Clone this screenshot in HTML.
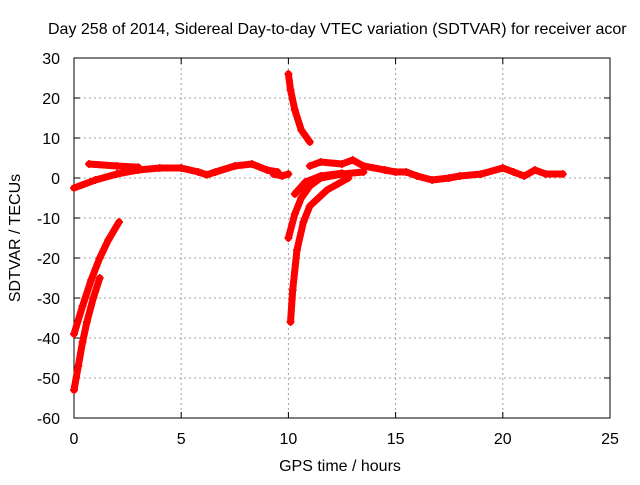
<!DOCTYPE html>
<html><head><meta charset="utf-8"><style>
body{margin:0;background:#fff;font-family:"Liberation Sans",sans-serif}
svg text{font-family:"Liberation Sans",sans-serif;font-size:16px;fill:#000}
</style></head><body>
<svg id="c" width="640" height="480" xmlns="http://www.w3.org/2000/svg"></svg>
<script>
const xTicks=[0,5,10,15,20,25];
const yTicks=[30,20,10,0,-10,-20,-30,-40,-50,-60];
const s1=[[0,-53],[0.2,-47],[0.4,-41],[0.6,-36],[0.9,-30],[1.2,-25]];
const s2=[[0,-39],[0.4,-32],[0.8,-25.5],[1.2,-20],[1.6,-15.5],[2.1,-11]];
const s3=[[0,-2.5],[1,-0.5],[2,1],[3,2],[4,2.5],[5,2.5],[5.8,1.5],[6.2,0.8],[6.6,1.5],[7.5,3],[8.3,3.5],[9,2],[9.5,1.5]];
const s4=[[0.7,3.5],[2,3],[3,2.7]];
const s5=[[9.3,1],[9.7,0.5],[10,1]];
const s6=[[10,26],[10.1,22],[10.3,17],[10.6,12],[11,9]];
const s7=[[10,-15],[10.3,-9],[10.6,-5],[11,-2],[11.5,0],[12.5,1],[13.5,1.5]];
const s8=[[10.1,-36],[10.2,-28],[10.4,-18],[10.7,-11],[11,-7],[11.4,-5],[11.8,-3],[12.3,-1.5],[12.8,0]];
const s9=[[10.3,-4],[10.8,-1],[11.5,0.5],[12.5,1.2]];
const s10=[[11,3],[11.5,4],[12.5,3.5],[13,4.5],[13.5,3],[14.5,2],[15,1.5],[15.5,1.5],[16,0.5],[16.7,-0.5],[17.5,0],[18,0.5],[19,1],[20,2.5],[20.5,1.5],[21,0.5],[21.5,2],[22,1],[22.8,1]];
const series=[s1,s2,s3,s4,s5,s6,s7,s8,s9,s10];
const L=74,R=610,T=58,B=418;
const X=v=>L+(v-0)/25*(R-L);
const Y=v=>B-(v+60)/90*(B-T);
const svg=document.getElementById('c');const NS='http://www.w3.org/2000/svg';
function mk(t,a,p){const e=document.createElementNS(NS,t);for(const k in a)e.setAttribute(k,a[k]);(p||svg).appendChild(e);return e;}
xTicks.forEach(v=>{
 if(v>0&&v<25){const g=mk('line',{x1:X(v),x2:X(v),y1:T,y2:B,stroke:'#a0a0a0','stroke-dasharray':'2,3'});}
 const t=mk('text',{x:X(v),y:B+26,'text-anchor':'middle'});t.textContent=v;
 
 
 mk('line',{x1:X(v),x2:X(v),y1:B,y2:B-6,stroke:'#000'});mk('line',{x1:X(v),x2:X(v),y1:T,y2:T+6,stroke:'#000'});
});
yTicks.forEach(v=>{
 if(v>-60&&v<30){const g=mk('line',{x1:L,x2:R,y1:Y(v),y2:Y(v),stroke:'#a0a0a0','stroke-dasharray':'2,3'});}
 const t=mk('text',{x:L-14,y:Y(v)+6,'text-anchor':'end'});t.textContent=v;
 
 
 mk('line',{x1:L,x2:L+6,y1:Y(v),y2:Y(v),stroke:'#000'});mk('line',{x1:R,x2:R-6,y1:Y(v),y2:Y(v),stroke:'#000'});
});
const fr=mk('rect',{x:L,y:T,width:R-L,height:B-T,fill:'none',stroke:'#000'});

series.forEach((s,i)=>{
 const p=mk('polyline',{points:s.map(d=>X(d[0])+','+Y(d[1])).join(' '),fill:'none',stroke:'#f00','stroke-width':7,'stroke-linecap':'round','stroke-linejoin':'round'});
 
 
 s.forEach(d=>{mk('path',{d:`M${X(d[0])-4},${Y(d[1])}h8M${X(d[0])},${Y(d[1])-4}v8`,stroke:'#f00','stroke-width':1.5});});
});
const ti=mk('text',{x:48,y:34,'text-anchor':'start'});ti.textContent='Day 258 of 2014, Sidereal Day-to-day VTEC variation (SDTVAR) for receiver acor';

const xt=mk('text',{x:340,y:471,'text-anchor':'middle'});xt.textContent='GPS time / hours';

const yt=mk('text',{x:20,y:238,'text-anchor':'middle',transform:'rotate(-90 20 238)'});yt.textContent='SDTVAR / TECUs';

</script>
</body></html>
